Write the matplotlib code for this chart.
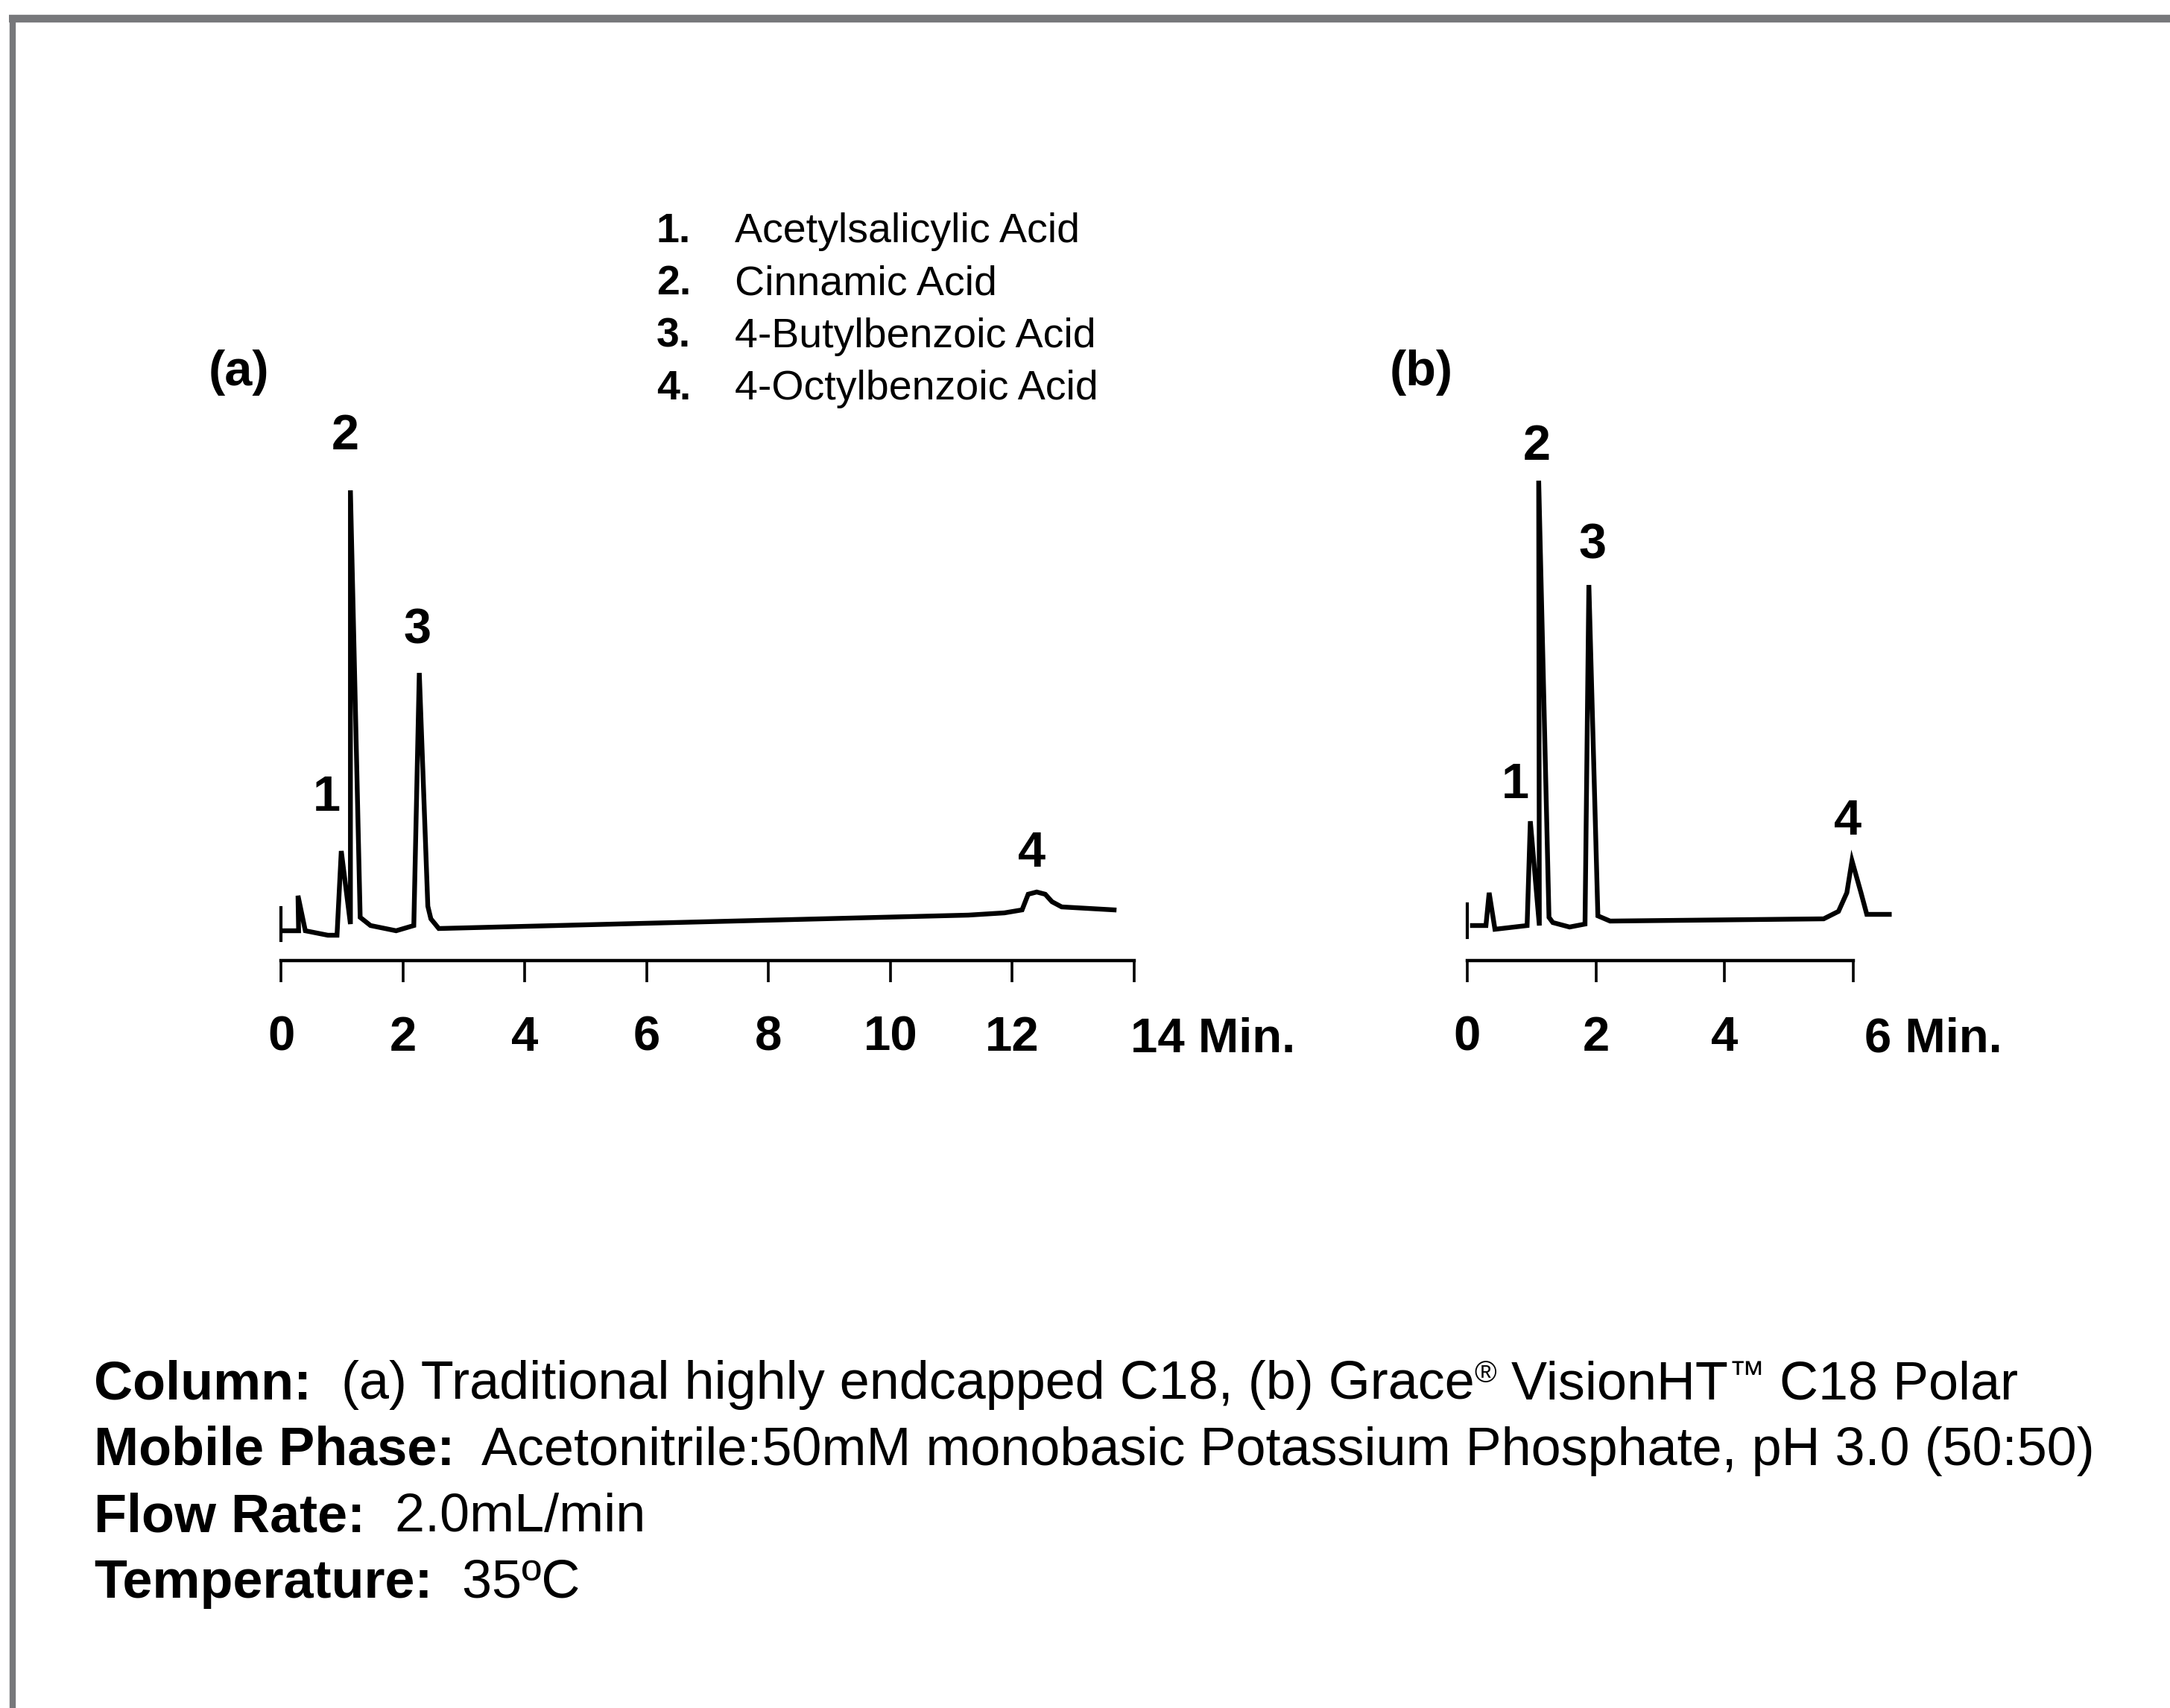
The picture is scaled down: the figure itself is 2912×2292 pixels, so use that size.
import matplotlib
matplotlib.use("Agg")
import matplotlib.pyplot as plt
from matplotlib import font_manager
from matplotlib.lines import Line2D

# data -------------------------------------------
# (a) traditional C18: retention time (min) / detector signal (arb. units)
time_a = [0.04, 0.29, 0.28, 0.40, 0.77, 0.92, 0.99, 1.14, 1.14, 1.30, 1.47, 1.89,
          2.18, 2.27, 2.41, 2.46, 2.59, 11.28, 11.87, 12.16, 12.26, 12.40, 12.54,
          12.65, 12.81, 13.67]
signal_a = [4.0, 4.0, 8.7, 4.0, 3.4, 3.4, 14.7, 4.9, 63.1, 5.8, 4.7, 4.0,
            4.7, 38.6, 7.3, 5.6, 4.3, 6.1, 6.4, 6.8, 8.9, 9.2, 8.9,
            7.9, 7.2, 6.8]
inject_a = [2.7, 7.1]

# (b) VisionHT C18 Polar
time_b = [0.08, 0.29, 0.34, 0.43, 0.93, 0.98, 1.12, 1.11, 1.27, 1.33, 1.59, 1.83,
          1.89, 2.03, 2.22, 5.54, 5.77, 5.90, 5.98, 6.12, 6.21, 6.56]
signal_b = [4.7, 4.7, 9.1, 4.2, 4.7, 18.7, 4.7, 64.4, 5.8, 5.1, 4.5, 4.9,
            50.4, 6.0, 5.3, 5.6, 6.6, 9.1, 13.4, 9.1, 6.2, 6.2]
inject_b = [3.1, 7.6]

peak_names = ["1", "2", "3", "4"]
label_time_a = [0.75, 1.06, 2.24, 12.32]
label_height_a = [20.1, 68.6, 42.6, 12.6]
label_time_b = [0.74, 1.08, 1.95, 5.91]
label_height_b = [21.8, 67.2, 54.0, 16.9]

ticks_a = [0, 2, 4, 6, 8, 10, 12, 14]
ticks_b = [0, 2, 4, 6]

compounds = ["Acetylsalicylic Acid", "Cinnamic Acid",
             "4-Butylbenzoic Acid", "4-Octylbenzoic Acid"]

conditions = [
    ("Column:", "  (a) Traditional highly endcapped C18, (b) Grace"),
    ("Mobile Phase:", "  Acetonitrile:50mM monobasic Potassium Phosphate, pH 3.0 (50:50)"),
    ("Flow Rate:", "  2.0mL/min"),
    ("Temperature:", "  35\u00baC"),
]

# fonts ------------------------------------------
installed = {f.name for f in font_manager.fontManager.ttflist}
narrow = "Liberation Sans Narrow" if "Liberation Sans Narrow" in installed else "Liberation Sans"
tick_size = 50 if narrow != "Liberation Sans" else 47
plt.rcParams["font.family"] = ["Liberation Sans", "DejaVu Sans"]

W, H = 2912, 2292
fig = plt.figure(figsize=(W / 100, H / 100), dpi=100)
bg = fig.add_axes([0, 0, 1, 1])
bg.set_xlim(0, W)
bg.set_ylim(H, 0)
bg.axis("off")

# grey frame (top + left)
fig.add_artist(Line2D([12 / W, 1], [1 - 25 / H, 1 - 25 / H], transform=fig.transFigure,
                      color="#77787b", lw=7.5, solid_capstyle="butt"))
fig.add_artist(Line2D([17 / W, 17 / W], [0, 1 - 20 / H], transform=fig.transFigure,
                      color="#77787b", lw=6, solid_capstyle="butt"))

AX_BOTTOM, AX_TOP = 1289, 480


def make_axes(x0_px, px_per_min, xmin, xmax):
    left = (x0_px + xmin * px_per_min) / W
    width = (xmax - xmin) * px_per_min / W
    ax = fig.add_axes([left, 1 - AX_BOTTOM / H, width, (AX_BOTTOM - AX_TOP) / H])
    ax.set_xlim(xmin, xmax)
    ax.set_ylim(0, (AX_BOTTOM - AX_TOP) / 10)
    ax.patch.set_visible(False)
    for s in ["top", "right", "left"]:
        ax.spines[s].set_visible(False)
    ax.spines["bottom"].set_linewidth(3.2)
    ax.set_yticks([])
    return ax


def draw_panel(ax, t, sig, inject, ticks, lab_t, lab_h, last_dx):
    ax.plot(t, sig, color="black", lw=4.6, solid_joinstyle="miter", clip_on=False)
    ax.plot([0, 0], inject, color="black", lw=3, clip_on=False)
    for name, x, y in zip(peak_names, lab_t, lab_h):
        ax.text(x, y, name, ha="center", va="baseline", fontsize=48, fontweight="bold")
    ax.spines["bottom"].set_bounds(ticks[0], ticks[-1])
    ax.set_xticks(ticks)
    ax.set_xticklabels([str(v) for v in ticks[:-1]] + [""])
    ax.tick_params(axis="x", length=21, width=2.6, pad=32, labelsize=tick_size)
    for lbl in ax.get_xticklabels():
        lbl.set_fontfamily(narrow)
        lbl.set_fontweight("bold")
    ax.text(ticks[-1] + last_dx, -123 / (AX_BOTTOM - AX_TOP), f"{ticks[-1]} Min.",
            transform=ax.get_xaxis_transform(), ha="left", va="baseline",
            fontsize=tick_size, fontweight="bold", family=narrow)


ax_a = make_axes(377, 81.79, -0.3, 14.3)
draw_panel(ax_a, time_a, signal_a, inject_a, ticks_a, label_time_a, label_height_a, -0.06)

ax_b = make_axes(1969, 86.33, -0.3, 6.8)
draw_panel(ax_b, time_b, signal_b, inject_b, ticks_b, label_time_b, label_height_b, 0.17)

# panel letters
bg.text(280, 517, "(a)", fontsize=48, fontweight="bold", family=narrow, va="baseline")
bg.text(1865, 517, "(b)", fontsize=48, fontweight="bold", family=narrow, va="baseline")

# compound list ----------------------------------
for i, name in enumerate(compounds):
    yb = 325 + i * 70.3
    bg.text(881, yb, f"{i + 1}.", fontsize=40, fontweight="bold", va="baseline")
    bg.text(986, yb, name, fontsize=40, va="baseline")

# run conditions ---------------------------------
for i, (key, value) in enumerate(conditions):
    yb = 1877 + i * 89
    k = bg.text(126, yb, key, fontsize=51.8, fontweight="bold", va="baseline")
    v = bg.annotate(value, xy=(1, 0), xycoords=k, va="bottom", ha="left", fontsize=51.8)
    if i == 0:
        r = bg.annotate("\u00ae", xy=(1, 1), xycoords=v, va="top", ha="left", fontsize=29)
        v2 = bg.annotate(" VisionHT", xy=(1, 0), xycoords=(r, v), va="bottom", ha="left", fontsize=51.8)
        tm = bg.annotate("\u2122", xy=(1, 1), xycoords=v2, va="top", ha="left", fontsize=35)
        bg.annotate(" C18 Polar", xy=(1, 0), xycoords=(tm, v2), va="bottom", ha="left", fontsize=51.8)

fig.savefig("out.png", dpi=100)
